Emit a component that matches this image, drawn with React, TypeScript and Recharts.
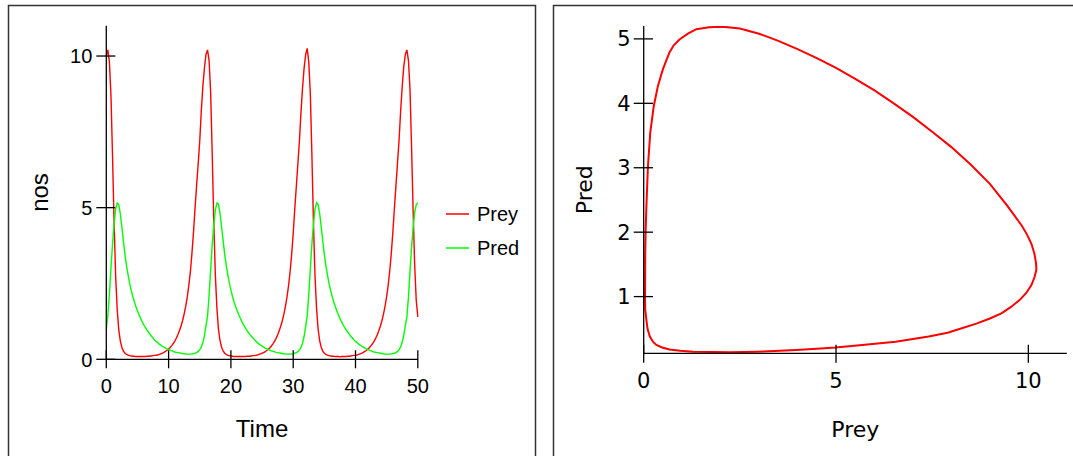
import { Legend, Line, LineChart, XAxis, YAxis } from "recharts";

// sampling interval of the simulation output (time units)
const STEP = 0.25;

// Prey population, t = 0 .. 50
const preyValues = [
  10.0,
  // cycle 1
  10.2, 9.8, 8.7, 6.7, 4.5, 2.75, 1.65, 0.98, 0.6, 0.39, 0.27, 0.2, 0.16, 0.14, 0.12, 0.11,
  0.1, 0.1, 0.09, 0.09, 0.09, 0.09, 0.09, 0.09, 0.09, 0.1, 0.1, 0.11, 0.11, 0.12, 0.13, 0.135,
  0.14, 0.16, 0.18, 0.2, 0.23, 0.26, 0.3, 0.34, 0.39, 0.45, 0.52, 0.6, 0.7, 0.82, 0.95, 1.1,
  1.28, 1.5, 1.75, 2.05, 2.45, 2.9, 3.5, 4.2, 5.0, 5.75, 6.45, 7.2, 8.2, 9.0, 9.6, 10.05,
  // cycle 2
  10.2, 9.85, 8.8, 6.8, 4.55, 2.8, 1.7, 1.0, 0.62, 0.4, 0.28, 0.2, 0.16, 0.13, 0.12, 0.11,
  0.1, 0.09, 0.09, 0.09, 0.09, 0.09, 0.09, 0.09, 0.09, 0.1, 0.1, 0.1, 0.11, 0.12, 0.12, 0.13,
  0.14, 0.16, 0.18, 0.2, 0.22, 0.25, 0.29, 0.33, 0.38, 0.44, 0.51, 0.59, 0.69, 0.8, 0.94, 1.09,
  1.27, 1.48, 1.74, 2.05, 2.42, 2.88, 3.45, 4.15, 4.95, 5.7, 6.45, 7.2, 8.15, 8.95, 9.6, 10.05,
  // cycle 3
  10.25, 9.8, 8.75, 6.75, 4.5, 2.75, 1.68, 0.99, 0.61, 0.4, 0.27, 0.2, 0.16, 0.14, 0.12, 0.11,
  0.1, 0.1, 0.09, 0.09, 0.09, 0.08, 0.09, 0.09, 0.09, 0.09, 0.1, 0.1, 0.11, 0.12, 0.13, 0.13,
  0.14, 0.16, 0.18, 0.2, 0.23, 0.26, 0.29, 0.34, 0.39, 0.45, 0.52, 0.6, 0.7, 0.81, 0.95, 1.1,
  1.28, 1.5, 1.76, 2.07, 2.45, 2.92, 3.5, 4.2, 5.0, 5.75, 6.5, 7.25, 8.2, 9.0, 9.65, 10.05,
  // start of cycle 4
  10.2, 9.85, 8.9, 7.0, 4.9, 3.1, 1.95, 1.4,
];

// Predator population, t = 0 .. 50
const predValues = [
  1.0,
  // cycle 1
  1.45, 2.15, 3.0, 3.8, 4.45, 4.95, 5.15, 5.1, 4.8, 4.35, 3.9, 3.45, 3.08, 2.78, 2.5, 2.27,
  2.07, 1.9, 1.74, 1.6, 1.47, 1.35, 1.24, 1.14, 1.05, 0.97, 0.9, 0.83, 0.76, 0.7, 0.64, 0.59,
  0.55, 0.5, 0.47, 0.43, 0.4, 0.37, 0.34, 0.32, 0.3, 0.28, 0.26, 0.24, 0.23, 0.22, 0.21, 0.2,
  0.19, 0.18, 0.18, 0.17, 0.17, 0.17, 0.18, 0.19, 0.2, 0.22, 0.26, 0.32, 0.4, 0.55, 0.78, 1.1,
  // cycle 2
  1.42, 2.12, 2.95, 3.78, 4.42, 4.92, 5.15, 5.12, 4.82, 4.38, 3.92, 3.47, 3.1, 2.79, 2.51, 2.28,
  2.08, 1.9, 1.75, 1.61, 1.48, 1.36, 1.25, 1.15, 1.06, 0.98, 0.9, 0.83, 0.77, 0.71, 0.65, 0.6,
  0.55, 0.51, 0.47, 0.44, 0.4, 0.37, 0.35, 0.32, 0.3, 0.28, 0.26, 0.25, 0.23, 0.22, 0.21, 0.2,
  0.19, 0.18, 0.18, 0.17, 0.17, 0.17, 0.18, 0.18, 0.2, 0.22, 0.25, 0.31, 0.39, 0.53, 0.76, 1.08,
  // cycle 3
  1.44, 2.14, 2.98, 3.8, 4.45, 4.95, 5.16, 5.1, 4.8, 4.36, 3.9, 3.46, 3.08, 2.78, 2.5, 2.27,
  2.07, 1.9, 1.74, 1.6, 1.47, 1.35, 1.24, 1.14, 1.05, 0.97, 0.9, 0.83, 0.76, 0.7, 0.64, 0.59,
  0.55, 0.5, 0.47, 0.43, 0.4, 0.37, 0.34, 0.32, 0.3, 0.28, 0.26, 0.24, 0.23, 0.22, 0.21, 0.2,
  0.19, 0.18, 0.17, 0.17, 0.17, 0.17, 0.18, 0.19, 0.2, 0.22, 0.26, 0.32, 0.41, 0.56, 0.8, 1.12,
  // start of cycle 4
  1.4, 2.05, 2.9, 3.7, 4.35, 4.85, 5.1, 5.15,
];

// Phase-plane orbit (Prey, Pred), traced round once from the prey maximum
const loopPrey = [
  10.21, 10.2, 10.16, 10.08, 9.96, 9.83, 9.65, 9.44, 9.0, 8.5, 8.0, 7.5, 7.0, 6.5, 6.0, 5.5,
  5.0, 4.5, 4.0, 3.5, 3.0, 2.5, 2.05, 1.7, 1.37, 1.15, 0.93, 0.78, 0.67, 0.5, 0.37, 0.26,
  0.17, 0.11, 0.07, 0.05, 0.04, 0.035, 0.04, 0.07, 0.1, 0.16, 0.24, 0.33, 0.48, 0.67, 0.95,
  1.28, 1.8, 2.23, 2.92, 3.4, 3.96, 4.5, 4.99, 5.68, 6.55, 7.41, 7.9, 8.27, 8.65, 9.0, 9.3,
  9.55, 9.78, 9.95, 10.08, 10.16, 10.21,
];
const loopPred = [
  1.42, 1.52, 1.66, 1.82, 1.97, 2.1, 2.25, 2.42, 2.75, 3.05, 3.32, 3.56, 3.79, 4.0, 4.2, 4.38,
  4.55, 4.7, 4.84, 4.97, 5.08, 5.16, 5.19, 5.18, 5.15, 5.08, 4.99, 4.9, 4.79, 4.53, 4.27, 3.95,
  3.54, 3.02, 2.4, 2.0, 1.67, 0.95, 0.8, 0.64, 0.5, 0.38, 0.3, 0.25, 0.21, 0.18, 0.16,
  0.145, 0.14, 0.135, 0.145, 0.155, 0.17, 0.19, 0.21, 0.25, 0.3, 0.38, 0.44, 0.51, 0.58, 0.66, 0.74,
  0.84, 0.95, 1.06, 1.18, 1.3, 1.42,
];

const timeTicks = [0, 10, 20, 30, 40, 50];
const nosTicks = [0, 5, 10];
const preyTicks = [0, 5, 10];
const predTicks = [1, 2, 3, 4, 5];
const legendOrder = ["Prey", "Pred"];

const seriesData = preyValues.map((prey, i) => ({
  time: i * STEP,
  Prey: prey,
  Pred: predValues[i],
}));
const loopData = loopPrey.map((prey, i) => ({ prey, pred: loopPred[i] }));

const ARIAL = "'Liberation Sans', Arial, sans-serif";
const VERDANA = "'DejaVu Sans', Verdana, sans-serif";
const LEGEND_WIDTH = 90;

// tick mark that crosses the axis line, with its label
function CrossTick(props: any) {
  const { x, y, payload, side, inward, outward, gap, font, size } = props;
  if (side === "left") {
    return (
      <g>
        <line x1={x - outward} x2={x + inward} y1={y} y2={y} stroke="#000" strokeWidth={1.3} />
        <text x={x - gap} y={y} dy={size * 0.36} textAnchor="end" fontFamily={font} fontSize={size} fill="#000">
          {payload.value}
        </text>
      </g>
    );
  }
  return (
    <g>
      <line x1={x} x2={x} y1={y - inward} y2={y + outward} stroke="#000" strokeWidth={1.3} />
      <text x={x} y={y + gap} textAnchor="middle" fontFamily={font} fontSize={size} fill="#000">
        {payload.value}
      </text>
    </g>
  );
}

function AxisTitle(props: any) {
  const { viewBox, text, dx, dy, vertical, font, size } = props;
  if (vertical) {
    const x = viewBox.x + dx;
    const y = viewBox.y + viewBox.height / 2;
    return (
      <text x={x} y={y} transform={`rotate(-90 ${x} ${y})`} textAnchor="middle" fontFamily={font} fontSize={size} fill="#000">
        {text}
      </text>
    );
  }
  return (
    <text x={viewBox.x + viewBox.width / 2} y={viewBox.y + dy} textAnchor="middle" fontFamily={font} fontSize={size} fill="#000">
      {text}
    </text>
  );
}

function SeriesLegend(props: any) {
  const items = [...(props.payload || [])].sort(
    (a: any, b: any) => legendOrder.indexOf(a.value) - legendOrder.indexOf(b.value)
  );
  return (
    <div style={{ fontFamily: ARIAL, fontSize: 20, color: "#000" }}>
      {items.map((entry: any) => (
        <div key={entry.value} style={{ display: "flex", alignItems: "center", height: 34 }}>
          <svg width={23} height={4} style={{ display: "block" }}>
            <line x1={0} x2={23} y1={2} y2={2} stroke={entry.color} strokeWidth={1.5} />
          </svg>
          <span style={{ marginLeft: 8, lineHeight: "20px" }}>{entry.value}</span>
        </div>
      ))}
    </div>
  );
}

function TimeSeriesChart() {
  // the legend box takes LEGEND_WIDTH off the right side of the plot
  return (
    <LineChart
      width={540}
      height={456}
      data={seriesData}
      margin={{ top: 25.7, right: 122.2 - LEGEND_WIDTH, left: 46.3, bottom: 56.7 }}
    >
      <XAxis
        dataKey="time"
        type="number"
        domain={[0, 50]}
        ticks={timeTicks}
        interval={0}
        height={40}
        tickSize={0}
        tickMargin={0}
        axisLine={{ stroke: "#000", strokeWidth: 1.3 }}
        tickLine={false}
        tick={<CrossTick side="bottom" inward={9} outward={9} gap={34} font={ARIAL} size={20} />}
        label={<AxisTitle text="Time" dy={78} font={ARIAL} size={24} />}
      />
      <YAxis
        type="number"
        domain={[0, 11]}
        ticks={nosTicks}
        interval={0}
        width={60}
        tickSize={0}
        tickMargin={0}
        axisLine={{ stroke: "#000", strokeWidth: 1.3 }}
        tickLine={false}
        tick={<CrossTick side="left" inward={9} outward={10} gap={14} font={ARIAL} size={20} />}
        label={<AxisTitle text="nos" vertical dx={1.7} font={ARIAL} size={24} />}
      />
      <Legend
        layout="horizontal"
        verticalAlign="middle"
        align="right"
        content={<SeriesLegend />}
        wrapperStyle={{ left: 446, top: 197.3, width: LEGEND_WIDTH }}
      />
      <Line type="linear" dataKey="Prey" name="Prey" stroke="#ff0000" strokeWidth={1.4} dot={false} isAnimationActive={false} />
      <Line type="linear" dataKey="Pred" name="Pred" stroke="#00ff00" strokeWidth={1.4} dot={false} isAnimationActive={false} />
    </LineChart>
  );
}

function PhaseChart() {
  return (
    <LineChart width={533} height={456} data={loopData} margin={{ top: 26, right: 6.2, left: 43.7, bottom: 62.7 }}>
      <XAxis
        dataKey="prey"
        type="number"
        domain={[0, 11]}
        ticks={preyTicks}
        interval={0}
        height={40}
        tickSize={0}
        tickMargin={0}
        axisLine={{ stroke: "#000", strokeWidth: 1.3 }}
        tickLine={false}
        tick={<CrossTick side="bottom" inward={8.5} outward={9.5} gap={35} font={VERDANA} size={21} />}
        label={<AxisTitle text="Prey" dy={84} font={VERDANA} size={22} />}
      />
      <YAxis
        type="number"
        domain={[0.12, 5.2]}
        allowDataOverflow
        ticks={predTicks}
        interval={0}
        width={60}
        tickSize={0}
        tickMargin={0}
        axisLine={{ stroke: "#000", strokeWidth: 1.3 }}
        tickLine={false}
        tick={<CrossTick side="left" inward={9.3} outward={10} gap={13} font={VERDANA} size={21} />}
        label={<AxisTitle text="Pred" vertical dx={8} font={VERDANA} size={22} />}
      />
      <Line type="linear" dataKey="pred" stroke="#ff0000" strokeWidth={2} dot={false} isAnimationActive={false} />
    </LineChart>
  );
}

export default function App() {
  return (
    <div style={{ position: "absolute", left: 0, top: 0, width: 1073, height: 456, overflow: "hidden", background: "#fff" }}>
      <svg width={1073} height={456} style={{ position: "absolute", left: 0, top: 0 }}>
        <rect x={8.5} y={5.5} width={527} height={500} fill="none" stroke="#333" strokeWidth={1.5} />
        <rect x={553.5} y={5.5} width={600} height={500} fill="none" stroke="#333" strokeWidth={1.5} />
      </svg>
      <div style={{ position: "absolute", left: 0, top: 0 }}>
        <TimeSeriesChart />
      </div>
      <div style={{ position: "absolute", left: 540, top: 0 }}>
        <PhaseChart />
      </div>
    </div>
  );
}
